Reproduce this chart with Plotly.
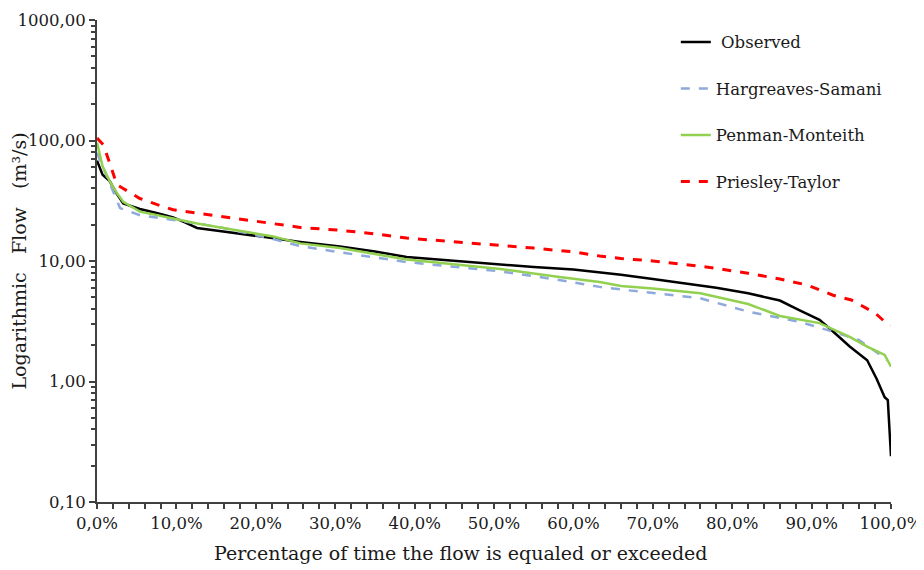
import plotly.graph_objects as go

# ---- data (percent of time, flow m3/s) ----
obs_x = [0, 0.3, 0.7, 1.6, 2.5, 3.3, 5.4, 7.5, 9.6, 11, 12.6, 15.9, 19, 22.2, 25.6, 30.6, 35, 39, 45, 50.8,
         55, 60, 63.3, 66, 70, 74, 78, 82, 86, 88.5, 91, 92.7, 94.8, 97, 98.2, 99.2, 99.6, 100]
obs_y = [68, 60, 52, 46, 36, 30, 27, 25, 23, 21, 18.8, 17.6, 16.5, 15.5, 14.4, 13.2, 12.0, 10.8, 10.0, 9.4,
         8.9, 8.5, 8.1, 7.7, 7.1, 6.5, 6.0, 5.4, 4.7, 3.9, 3.25, 2.6, 1.95, 1.5, 1.05, 0.74, 0.7, 0.24]

har_x = [0, 1.6, 2.9, 5.4, 9.6, 12.6, 15.9, 22.2, 25.6, 30.6, 39, 45, 50.8, 58, 63.3, 66, 70, 76, 82,
         88.5, 92.7, 96, 99.2, 99.5]
har_y = [79, 44, 27.5, 24, 22, 20.5, 18.8, 15.2, 13.3, 11.8, 9.8, 9.0, 8.2, 7.0, 6.1, 5.8, 5.4, 4.9, 3.8,
         3.13, 2.59, 2.2, 1.57, 1.5]

pen_x = [0, 0.7, 1.6, 2.5, 3.3, 5.4, 9.6, 12.6, 15.9, 22.2, 25.6, 30.6, 39, 45, 50.8, 58, 63.3, 66, 70,
         76, 82, 86, 91, 94.8, 97, 99.2, 100]
pen_y = [96, 61, 46, 36.6, 31, 25.7, 22.5, 20.5, 18.8, 16, 14.0, 12.8, 10.3, 9.4, 8.6, 7.4, 6.7, 6.2, 5.9,
         5.4, 4.4, 3.5, 3.05, 2.35, 1.95, 1.66, 1.33]

pri_x = [0, 0.8, 1.6, 2.5, 3.3, 5.4, 7.5, 9.6, 12.6, 15.9, 19, 22.2, 25.6, 30.6, 35, 39, 45, 50.8, 55, 60,
         63.3, 66, 70, 73.8, 78, 82, 86, 89.5, 92.7, 95, 98, 99.3, 100]
pri_y = [105, 92, 65, 43, 40, 33, 29.5, 26.6, 25, 23.4, 22, 20.6, 19, 18, 16.8, 15.5, 14.4, 13.6, 12.8, 11.9,
         11.0, 10.5, 10.0, 9.4, 8.7, 7.9, 7.1, 6.3, 5.2, 4.75, 3.7, 3.1, 2.95]

x_ticks = [0, 10, 20, 30, 40, 50, 60, 70, 80, 90, 100]
x_labels = ["0,0%", "10,0%", "20,0%", "30,0%", "40,0%", "50,0%", "60,0%", "70,0%", "80,0%", "90,0%", "100,0%"]
y_ticks = [0.1, 1, 10, 100, 1000]
y_labels = ["0,10", "1,00", "10,00", "100,00", "1000,00"]
y_minor = [m * 10 ** k for k in (-1, 0, 1, 2) for m in range(2, 10)]

FONT = "DejaVu Serif"
TXT = "#1a1a1a"

fig = go.Figure()
fig.add_trace(go.Scatter(x=obs_x, y=obs_y, mode="lines", name=" Observed", legendgroup="a",
                         line=dict(color="black", width=2.5)))
fig.add_trace(go.Scatter(x=har_x, y=har_y, mode="lines", name="Hargreaves-Samani", legendgroup="b",
                         line=dict(color="#8EA9DB", width=2.5, dash="dash")))
fig.add_trace(go.Scatter(x=pen_x, y=pen_y, mode="lines", name="Penman-Monteith", legendgroup="c",
                         line=dict(color="#92D050", width=2.5)))
fig.add_trace(go.Scatter(x=pri_x, y=pri_y, mode="lines", name="Priesley-Taylor", legendgroup="d",
                         line=dict(color="#FF0000", width=3, dash="dash")))

fig.add_annotation(text="Percentage of time the flow is equaled or exceeded", xref="paper", yref="paper",
                   x=0.458, y=-0.106, xanchor="center", yanchor="middle", showarrow=False,
                   font=dict(family=FONT, size=19, color=TXT))

fig.update_layout(
    width=924, height=570,
    margin=dict(l=89, r=41, t=12, b=76),
    paper_bgcolor="white", plot_bgcolor="white",
    font=dict(family=FONT, size=16, color=TXT),
    showlegend=True,
    legend=dict(x=0.729, y=0.99, xanchor="left", yanchor="top",
                font=dict(family=FONT, size=16.5, color=TXT),
                tracegroupgap=22, bgcolor="rgba(0,0,0,0)"),
    xaxis=dict(range=[0, 100], tickvals=x_ticks, ticktext=x_labels, showgrid=False, zeroline=False,
               automargin=False,
               showline=True, linecolor="#404040", linewidth=2, ticks="outside", ticklen=5,
               tickcolor="#404040", tickwidth=1.5,
               minor=dict(tickmode="linear", tick0=0, dtick=2, ticks="outside", ticklen=5,
                          tickcolor="#404040", tickwidth=1.5, showgrid=False),
               tickfont=dict(family=FONT, size=16.5, color=TXT)),
    yaxis=dict(type="log", range=[-1, 3], tickvals=y_ticks, ticktext=y_labels, showgrid=False,
               automargin=False,
               zeroline=False, showline=True, linecolor="#404040", linewidth=2, ticks="outside",
               ticklen=6, tickcolor="#404040", tickwidth=1.5,
               minor=dict(tickmode="array", tickvals=y_minor, ticks="outside", ticklen=4,
                          tickcolor="#404040", tickwidth=1.5, showgrid=False),
               tickfont=dict(family=FONT, size=16.5, color=TXT),
               title=dict(text="Logarithmic   Flow   (m³/s)", font=dict(family=FONT, size=19, color=TXT),
                          standoff=6)),
)

fig.write_html("out.html")
